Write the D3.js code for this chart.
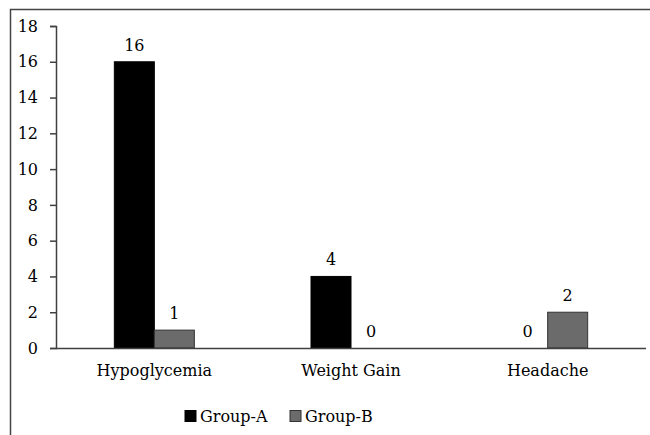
<!DOCTYPE html>
<html><head><meta charset="utf-8">
<script src="https://cdn.jsdelivr.net/npm/d3@7"></script>
<style>body{margin:0;background:#fff}svg{display:block}text{font-family:"DejaVu Serif",serif;fill:#000}</style>
</head><body><svg id="c" width="650" height="435"></svg>
<script>
const categories = ["Hypoglycemia", "Weight Gain", "Headache"];
const seriesNames = ["Group-A", "Group-B"];
const groupA = [16, 4, 0];
const groupB = [1, 0, 2];
const yTicks = [0, 2, 4, 6, 8, 10, 12, 14, 16, 18];
const colors = ["#000000", "#6b6b6b"];

const svg = d3.select("#c");
const fs = 16;
const ff = '"DejaVu Serif",serif';
// frame
svg.append("path").attr("d","M10.5,435 V9.5 H650").attr("fill","none").attr("stroke","#444").attr("stroke-width",1.5);

const mLeft = 56, mRight = 646, mTop = 26, mBottom = 348;
const x = d3.scaleBand().domain(categories).range([mLeft, mRight]);
const x1 = d3.scaleBand().domain(seriesNames).range([0, 80]);
const y = d3.scaleLinear().domain([0, 18]).range([mBottom, mTop]);

const data = seriesNames.map((s, i) => ({s, vals: i === 0 ? groupA : groupB}));

data.forEach((d, si) => {
  const pts = d.vals.map((v, ci) => ({v, c: categories[ci]}));
  svg.append("g").selectAll("rect").data(pts.filter(e => e.v > 0))
    .join("rect")
    .attr("x", e => x(e.c) + x.bandwidth()/2 - 40 + x1(d.s))
    .attr("width", x1.bandwidth())
    .attr("y", e => y(e.v))
    .attr("height", e => y(0) - y(e.v))
    .attr("fill", colors[si])
    .attr("stroke", si === 0 ? "#000" : "#333")
    .attr("stroke-width", 1);
  svg.append("g").selectAll("text").data(pts)
    .join("text")
    .attr("x", e => x(e.c) + x.bandwidth()/2 - 40 + x1(d.s) + x1.bandwidth()/2)
    .attr("y", e => y(e.v) - 11)
    .attr("text-anchor", "middle")
    .attr("font-size", fs)
    .text(e => e.v);
});

const yAxis = svg.append("g").attr("transform", `translate(${mLeft},0)`)
  .call(d3.axisLeft(y).tickValues(yTicks).tickSize(6).tickPadding(12));
yAxis.selectAll("text").attr("font-size", fs).attr("font-family", ff);
yAxis.selectAll("line,path").attr("stroke", "#404040").attr("stroke-width", 1.5);

const xAxis = svg.append("g").attr("transform", `translate(0,${mBottom})`)
  .call(d3.axisBottom(x).tickSize(0).tickPadding(17));
xAxis.selectAll("text").attr("font-size", fs).attr("font-family", ff).attr("dy", "0.71em");
xAxis.select("path").attr("stroke", "#404040").attr("stroke-width", 1.5).attr("d", `M${mLeft},0.5H${mRight}`);

// legend
const leg = svg.append("g");
const legX = [185, 290];
seriesNames.forEach((s, i) => {
  leg.append("rect").attr("x", legX[i]).attr("y", 410.5).attr("width", 11).attr("height", 11)
    .attr("fill", colors[i]).attr("stroke", i === 0 ? "#000" : "#333");
  leg.append("text").attr("x", legX[i] + 15).attr("y", 422).attr("font-size", fs).text(s);
});
</script></body></html>
